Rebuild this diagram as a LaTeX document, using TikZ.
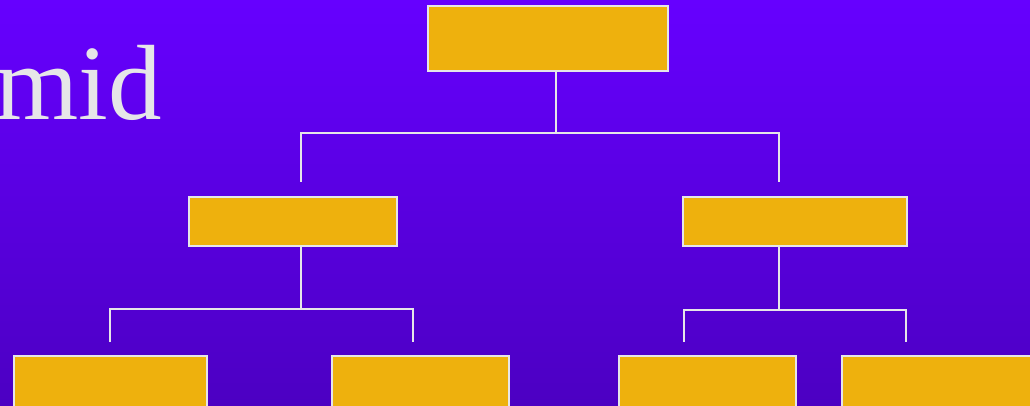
\documentclass[tikz,border=0pt]{standalone}
\usepackage{fontspec}
\setmainfont{Liberation Serif}
\definecolor{bgtop}{RGB}{102,0,255}
\definecolor{bgbot}{RGB}{76,0,194}
\definecolor{gold}{RGB}{238,177,13}
\definecolor{edge}{RGB}{230,230,232}
\begin{document}
\begin{tikzpicture}[x=1pt,y=-1pt,
  box/.style={draw=edge,fill=gold,line width=2pt,inner sep=0pt,rectangle},
  conn/.style={draw=edge,line width=2pt,line join=miter}]
\useasboundingbox (0,0) rectangle (1030,406);
\begin{scope}
\clip (0,0) rectangle (1030,406);
\shade[top color=bgtop,bottom color=bgbot] (0,0) rectangle (1030,406);
\node[anchor=base east,text=edge,inner sep=0pt,font=\fontsize{107}{107}\selectfont] (title) at (162,120) {mid};
% boxes
\node[box,minimum width=240pt,minimum height=65pt] (top) at (548,38.5) {};
\node[box,minimum width=208pt,minimum height=49pt] (l) at (293,221.5) {};
\node[box,minimum width=224pt,minimum height=49pt] (r) at (795,221.5) {};
\node[box,minimum width=193pt,minimum height=56pt] (ll) at (110.5,384) {};
\node[box,minimum width=177pt,minimum height=56pt] (lr) at (420.5,384) {};
\node[box,minimum width=177pt,minimum height=56pt] (rl) at (707.5,384) {};
\node[box,minimum width=210pt,minimum height=56pt] (rr) at (947,384) {};
% junctions
\coordinate (j0) at (556,133);
\coordinate (a1) at (301,182);
\coordinate (a2) at (779,182);
\coordinate (j1) at (301,309);
\coordinate (b1) at (110,342);
\coordinate (b2) at (413,342);
\coordinate (j2) at (779,310);
\coordinate (b3) at (684,342);
\coordinate (b4) at (906,342);
% connectors
\draw[conn] (top.south -| j0) -- (j0);
\draw[conn] (a1) -- (a1 |- j0) -- (a2 |- j0) -- (a2);
\draw[conn] (l.south -| j1) -- (j1);
\draw[conn] (b1) -- (b1 |- j1) -- (b2 |- j1) -- (b2);
\draw[conn] (r.south -| j2) -- (j2);
\draw[conn] (b3) -- (b3 |- j2) -- (b4 |- j2) -- (b4);
\end{scope}
\end{tikzpicture}
\end{document}
